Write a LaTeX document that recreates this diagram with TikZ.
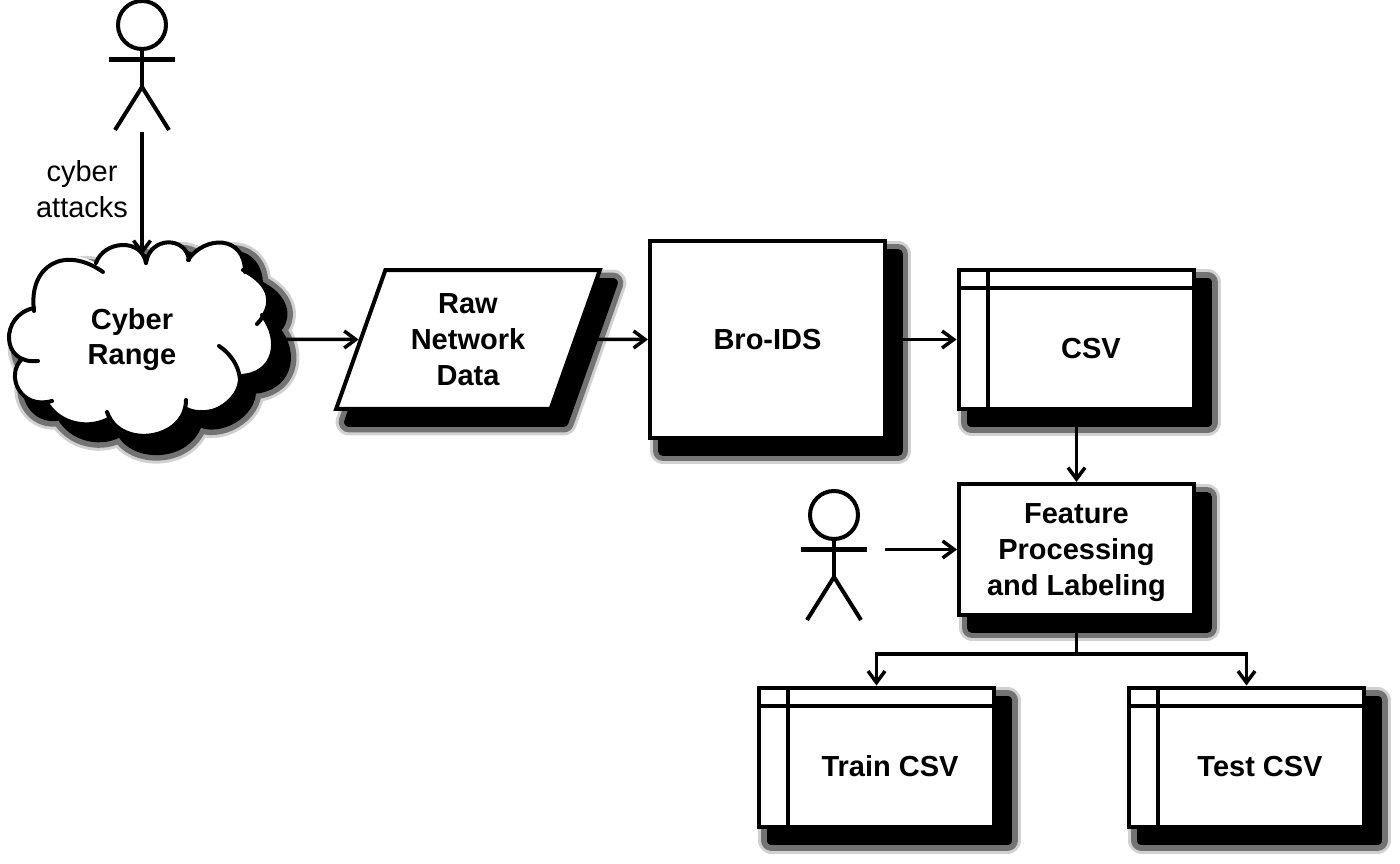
\documentclass[tikz,border=0pt]{standalone}
\usepackage{fontspec}
\setmainfont{Liberation Sans}
\usetikzlibrary{arrows.meta,shapes.geometric}
\tikzset{
  softshadow/.style={
    preaction={draw=black!18,fill=black,line width=0.54cm,line join=round,
      transform canvas={shift={(0.26cm,-0.26cm)}}},
    preaction={draw=black!55,fill=black,line width=0.42cm,line join=round,
      transform canvas={shift={(0.26cm,-0.26cm)}}},
    preaction={draw=black,fill=black,line width=0.2cm,line join=round,
      transform canvas={shift={(0.26cm,-0.26cm)}}}},
  block/.style={draw,line width=0.08cm,fill=white,inner sep=0pt,align=center,text depth=0pt,
    font=\fontsize{16.5}{20.3}\selectfont\bfseries,softshadow},
  tablebox/.style={block,minimum width=4.72cm,minimum height=2.8cm,
    path picture={
      \draw [line width=0.08cm]
        ([yshift=-0.37cm]path picture bounding box.north west)
        -- ([yshift=-0.37cm]path picture bounding box.north east);
      \draw [line width=0.08cm]
        ([xshift=0.58cm]path picture bounding box.north west)
        -- ([xshift=0.58cm]path picture bounding box.south west);}},
  tabletext/.style={font=\fontsize{16.5}{20.3}\selectfont\bfseries,text depth=0pt},
  link/.style={line width=0.07cm,-{Straight Barb[length=0.23cm,width=0.34cm,line width=0.07cm]}},
  puff/.style={line width=0.08cm,line cap=round},
  stickman/.pic={
    \draw [line width=0.08cm] (0,0) circle (24);
    \draw [line width=0.1cm] (-33,35) -- (33,35);
    \draw [line width=0.08cm] (0,24) -- (0,63);
    \draw [line width=0.08cm] (-27,105) -- (0,62) -- (27,105);
    \coordinate (-feet) at (0,107);
    \coordinate (-hand) at (51,34.5);
  }
}
\newcommand{\cloudoutline}{(34,311) .. controls (28,265) and (65,245) .. (96,263)
  .. controls (104,240) and (142,238) .. (146,263)
  .. controls (150,236) and (186,236) .. (189,260)
  .. controls (205,235) and (245,235) .. (245,272)
  .. controls (272,285) and (275,305) .. (262,317)
  .. controls (282,340) and (275,375) .. (238,376)
  .. controls (240,400) and (205,420) .. (185,408)
  .. controls (175,445) and (120,445) .. (108,418)
  .. controls (90,430) and (60,425) .. (48,402)
  .. controls (20,410) and (5,375) .. (22,360)
  .. controls (0,345) and (5,315) .. (34,311) -- cycle}
\begin{document}
\begin{tikzpicture}[x=0.02cm,y=-0.02cm]
  \useasboundingbox (0,0) rectangle (1400,864);
  % cloud
  \fill [black!18, shift={(13,13)}, draw=black!18, line width=0.54cm, line join=round] \cloudoutline;
  \fill [black!55, shift={(13,13)}, draw=black!55, line width=0.42cm, line join=round] \cloudoutline;
  \fill [black, shift={(13,13)}, draw=black, line width=0.2cm, line join=round] \cloudoutline;
  \fill [white] \cloudoutline;
  \draw [puff] (34,311) .. controls (28,265) and (65,245) .. (103,272);
  \draw [puff] (96,263) .. controls (104,240) and (142,238) .. (146,263);
  \draw [puff] (146,263) .. controls (150,236) and (186,236) .. (189,260);
  \draw [puff] (188,260) .. controls (205,235) and (245,235) .. (245,272);
  \draw [puff] (243,270) .. controls (272,285) and (275,305) .. (257,324);
  \draw [puff] (262,315) .. controls (282,340) and (275,375) .. (240,376);
  \draw [puff] (219,346) .. controls (240,360) and (245,385) .. (235,395)
        .. controls (222,415) and (195,415) .. (185,408);
  \draw [puff] (186,400) .. controls (186,440) and (120,450) .. (107,412);
  \draw [puff] (110,418) .. controls (90,430) and (60,425) .. (47,403);
  \draw [puff] (52,401) .. controls (20,410) and (5,375) .. (22,359);
  \draw [puff] (38,361) .. controls (0,365) and (0,315) .. (34,308);
  \node [tabletext, align=center] (range) at (132,336.5) {Cyber\\Range};
  \coordinate (cloudtop) at (142,255);
  \coordinate (cloudright) at (272,339.5);
  % bloki
  \node [block, shape=trapezium, trapezium left angle=69.5, trapezium right angle=110.5,
         trapezium stretches=true, minimum width=5.28cm, minimum height=2.78cm]
        (raw) at (468,339.5) {Raw\\Network\\Data};
  \node [block, minimum width=4.7cm, minimum height=3.94cm] (bro) at (767.5,339.5) {Bro-IDS};
  \node [tablebox] (csv) at (1076.5,339.5) {};
  \node [tabletext] (csvtext) at (1091,348) {CSV};
  \node [block, minimum width=4.7cm, minimum height=2.62cm] (feature) at (1076.5,549.5)
        {Feature\\Processing\\and Labeling};
  \node [tablebox] (train) at (876.5,757.5) {};
  \node [tabletext] (traintext) at (890,766) {Train CSV};
  \node [tablebox] (test) at (1246.5,757.5) {};
  \node [tabletext] (testtext) at (1260,766) {Test CSV};
  % osebe
  \pic (attacker) at (142,25) {stickman};
  \pic (analyst) at (834,515) {stickman};
  \node [font=\fontsize{16.5}{20.3}\selectfont, align=center] (attacks) at (82,189) {cyber\\attacks};
  % povezave
  \draw [link] (attacker-feet) -- (cloudtop);
  \draw [link] (cloudright) -- (raw.west);
  \draw [link] (raw.east) -- (bro.west);
  \draw [link] (bro.east) -- (csv.west);
  \draw [link] (csv.south) -- (feature.north);
  \draw [link] (analyst-hand) -- (feature.west);
  \draw [link] (feature.south) -- ++(0,37) -| (train.north);
  \draw [link] (feature.south) -- ++(0,37) -| (test.north);
\end{tikzpicture}
\end{document}
